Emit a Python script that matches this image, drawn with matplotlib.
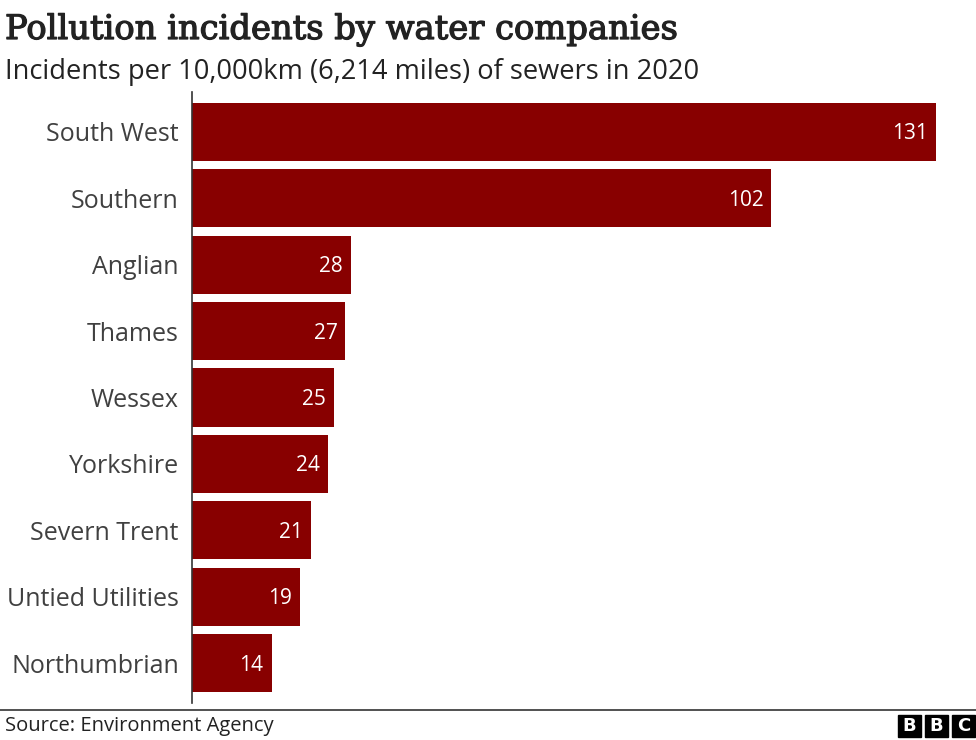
import matplotlib.pyplot as plt
import matplotlib.patheffects as pe
from matplotlib.patches import Rectangle

COMPANIES = [
    'South West',
    'Southern',
    'Anglian',
    'Thames',
    'Wessex',
    'Yorkshire',
    'Severn Trent',
    'Untied Utilities',
    'Northumbrian',
]
INCIDENTS = [131, 102, 28, 27, 25, 24, 21, 19, 14]

BAR_COLOUR = '#880000'
TEXT_GREY = '#404040'

fig = plt.figure(figsize=(9.76, 7.40), dpi=100)
ax = fig.add_axes([192 / 976, 1 - 703 / 740, (936 - 192) / 976, (703 - 92) / 740])

ypos = list(range(len(COMPANIES)))
ax.barh(ypos, INCIDENTS, height=0.875, color=BAR_COLOUR)
for y, v in zip(ypos, INCIDENTS):
    ax.text(v - 1.4, y + 0.03, str(v), color='white', fontsize=15,
            ha='right', va='center', family='Open Sans')

ax.set_xlim(0, 131)
ax.set_ylim(len(COMPANIES) - 0.4, -0.6)
ax.set_yticks(ypos)
ax.set_yticklabels(COMPANIES, fontsize=18, color=TEXT_GREY, family='Open Sans')
ax.tick_params(axis='y', length=0, pad=9.5)
ax.set_xticks([])
for side in ['top', 'right', 'bottom']:
    ax.spines[side].set_visible(False)
ax.spines['left'].set_color('#333333')
ax.spines['left'].set_linewidth(1.2)

fig.text(5 / 976, 1 - 30 / 740, 'Pollution incidents by water companies',
         fontsize=24.3, color='#222222', family='DejaVu Serif',
         ha='left', va='center',
         path_effects=[pe.withStroke(linewidth=0.9, foreground='#222222')])
fig.text(5 / 976, 1 - 72 / 740,
         'Incidents per 10,000km (6,214 miles) of sewers in 2020',
         fontsize=19.6, color='#222222', family='Open Sans',
         ha='left', va='center')

# footer rule, source and logo
fig.add_artist(plt.Line2D([0, 1], [1 - 710 / 740] * 2, color='#333333',
                          linewidth=1.2, transform=fig.transFigure))
fig.text(5 / 976, 1 - 726 / 740, 'Source: Environment Agency',
         fontsize=14.5, color='#222222', family='Open Sans',
         ha='left', va='center')
for i, letter in enumerate('BBC'):
    x0 = (898 + i * 27) / 976
    fig.add_artist(Rectangle((x0, 1 - 737 / 740), 23 / 976, 22 / 740,
                             color='black', transform=fig.transFigure))
    fig.text(x0 + 11.5 / 976, 1 - 726 / 740, letter, color='white',
             fontsize=13, fontweight='bold', family='DejaVu Sans',
             ha='center', va='center')

fig.savefig('out.png', dpi=100)
